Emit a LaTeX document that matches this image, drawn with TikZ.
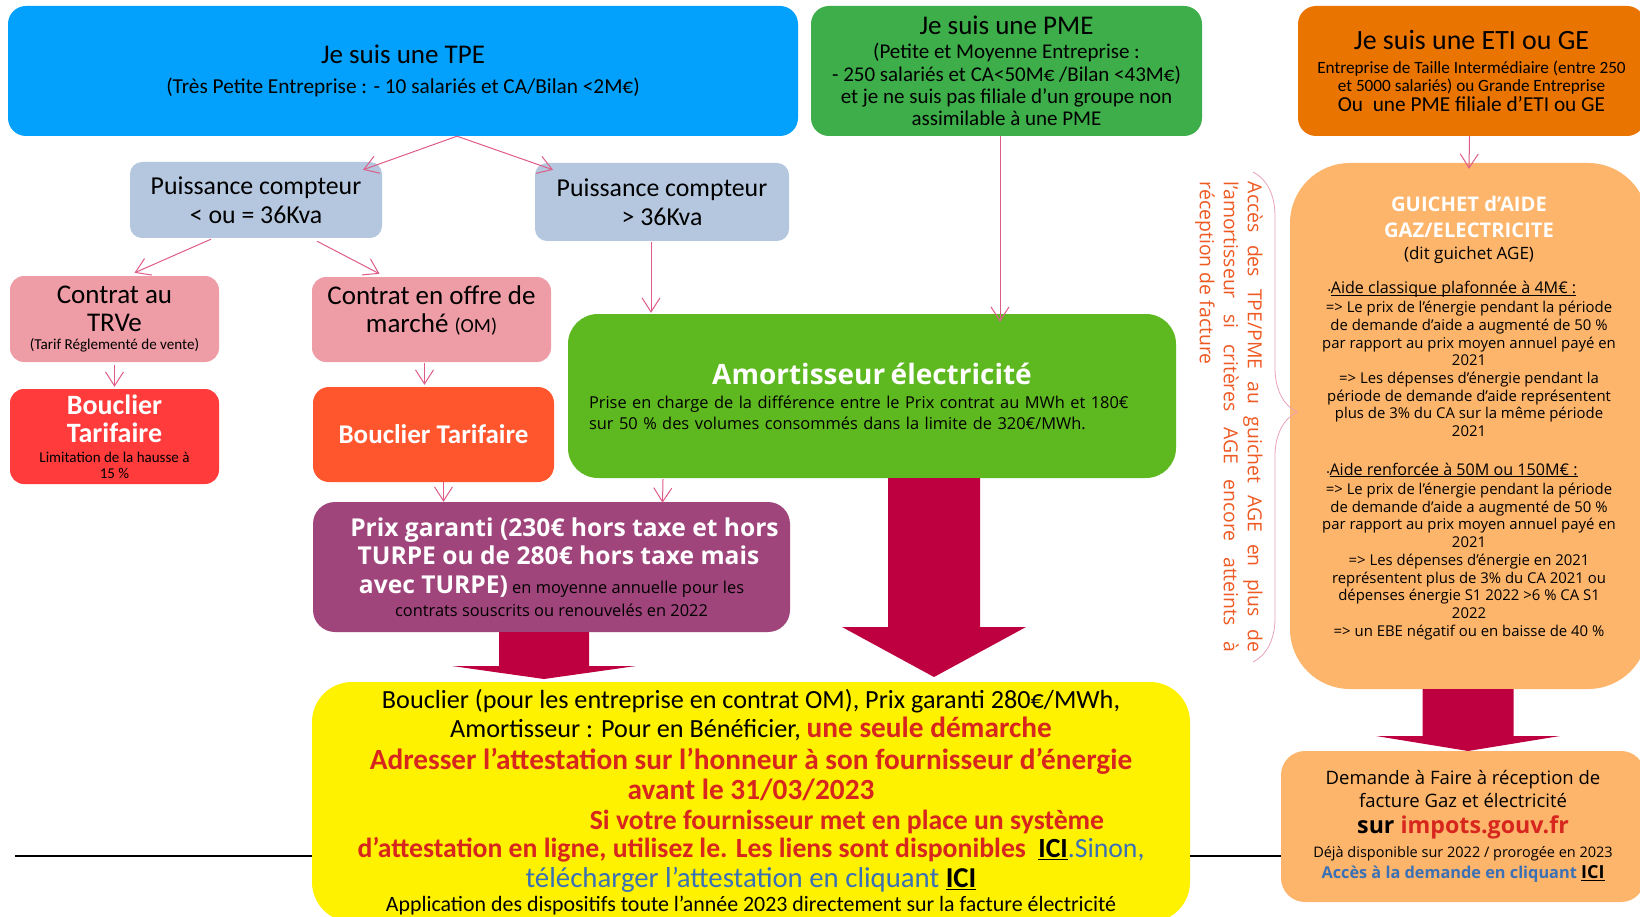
\documentclass[tikz,border=0pt]{standalone}
\usepackage{fontspec}
\setmainfont{Carlito}
\newfontfamily\marianne{Open Sans}
\usetikzlibrary{calc, arrows.meta, decorations.pathreplacing}

\definecolor{tpeblue}{HTML}{03A1FC}
\definecolor{pmegreen}{HTML}{3DAE49}
\definecolor{etiorange}{HTML}{EA7400}
\definecolor{kvablue}{HTML}{B4C7DF}
\definecolor{contratpink}{HTML}{EE9CA5}
\definecolor{shieldred}{HTML}{FF3B3B}
\definecolor{shieldorange}{HTML}{FF562E}
\definecolor{amortgreen}{HTML}{5EB820}
\definecolor{prixpurple}{HTML}{A0457C}
\definecolor{guichetorange}{HTML}{FDB46B}
\definecolor{arrowred}{HTML}{BE0040}
\definecolor{linkpink}{HTML}{DE5C87}
\definecolor{bracepink}{HTML}{E9A3B5}
\definecolor{txtred}{HTML}{D7261E}
\definecolor{txtblue}{HTML}{3A70B5}
\definecolor{vertorange}{HTML}{EE5A24}

\newcommand{\fs}[2]{\fontsize{#1}{#2}\selectfont}
% underline close to the baseline
\newcommand{\baseul}[1]{\setbox0\hbox{#1}\rlap{\rule[-1.8pt]{\wd0}{0.9pt}}\box0}
% fat arrow: start node (only its y), tip, half shaft, half head, head length
\newcommand{\fatarrow}[5]{%
  \fill[arrowred] let \p1=(#1), \p2=(#2) in
    (\x2-#3pt,\y1) -- (\x2+#3pt,\y1) -- (\x2+#3pt,\y2+#5pt) -- (\x2+#4pt,\y2+#5pt)
    -- (\x2,\y2) -- (\x2-#4pt,\y2+#5pt) -- (\x2-#3pt,\y2+#5pt) -- cycle;}

\begin{document}
\begin{tikzpicture}[x=1pt, y=-1pt,
    box/.style={rounded corners=#1, inner sep=0pt, align=center},
    box/.default=18pt,
    link/.style={draw=linkpink, line width=1pt, -{Straight Barb[length=14pt, width=18pt, line width=1pt]}}]
  \path[use as bounding box, fill=white] (0,0) rectangle (1640,917);
  \clip (0,0) rectangle (1640,917);

  % top row
  \node[box, fill=tpeblue, minimum width=790pt, minimum height=130pt, font=\fs{21.3}{30}] (tpe) at (403,71)
    {{\fs{27}{30}Je suis une TPE}\\(Très Petite Entreprise : - 10 salariés et CA/Bilan <2M€)};
  \node[box, fill=pmegreen, minimum width=391pt, minimum height=130pt, font=\fs{21}{26}] (pme) at (1006.5,71)
    {{\fs{27}{30}Je suis une PME}\\[-2pt](Petite et Moyenne Entreprise :\\[-3pt]- 250 salariés et CA<50M€ /Bilan <43M€)\\[-4pt]et je ne suis pas filiale d’un groupe non\\[-4pt]assimilable à une PME};
  \node[box, fill=etiorange, minimum width=347pt, minimum height=130pt, font=\fs{17.2}{24}] (eti) at (1471.5,71)
    {{\fs{27.9}{30}Je suis une ETI ou GE}\\Entreprise de Taille Intermédiaire (entre 250\\[-6pt]et 5000 salariés) ou Grande Entreprise\\[-4pt]{\fs{21.3}{22}Ou\ \ une PME filiale d’ETI ou GE}};

  % TPE branch
  \node[box=12pt, fill=kvablue, minimum width=252pt, minimum height=76pt, font=\fs{25.8}{28.5}] (pcLow) at (256,200)
    {Puissance compteur\\< ou = 36Kva};
  \node[box=12pt, fill=kvablue, minimum width=254pt, minimum height=78pt, font=\fs{25.8}{28.5}] (pcHigh) at (662,202)
    {Puissance compteur\\> 36Kva};
  \node[box=14pt, fill=contratpink, minimum width=209pt, minimum height=86pt, font=\fs{27}{28}] (trve) at (114.5,319)
    {Contrat au\\TRVe\\[-10pt]{\fs{15.1}{16}(Tarif Réglementé de vente)}};
  \node[box=14pt, fill=contratpink, minimum width=239pt, minimum height=85pt] (om) at (431.5,319.5) {};
  \node[align=center, font=\fs{27}{28}] (omText) at ($(om.center)+(0,-9)$)
    {Contrat en offre de\\marché {\fs{20}{20}(OM)}};
  \node[box=14pt, fill=shieldred, minimum width=209pt, minimum height=95pt, font=\fs{15}{28}] (shieldA) at (114.5,436.5)
    {{\color{white}\bfseries\fs{28}{28}Bouclier}\\{\color{white}\bfseries\fs{28}{28}Tarifaire}\\[-8pt]Limitation de la hausse à\\[-12pt]15 \%};
  \node[box=16pt, fill=shieldorange, minimum width=241pt, minimum height=95pt, text=white, font=\bfseries\fs{27}{30}] (shieldB) at (433.5,434.5)
    {Bouclier Tarifaire};

  \node[box=30pt, fill=amortgreen, minimum width=608pt, minimum height=164pt, text width=566pt, align=left, font=\marianne\fs{16.4}{21}] (amort) at (872,396)
    {{\centering\color{white}\bfseries\fs{28}{30}Amortisseur électricité\par}\vspace{3pt}Prise en charge de la différence entre le Prix contrat au MWh et 180€\\sur 50 \% des volumes consommés dans la limite de 320€/MWh.};
  \node[box=22pt, fill=prixpurple, minimum width=477pt, minimum height=130pt, font=\marianne\fs{16.4}{28.5}] (prix) at (551.5,567)
    {\hbox to 26pt{}{\bfseries\color{white}\fs{24.6}{28}Prix garanti (230€ hors taxe et hors}\\\hbox to 14pt{}{\bfseries\color{white}\fs{24.6}{28}TURPE ou de 280€ hors taxe mais}\\{\bfseries\color{white}\fs{24.6}{28}avec TURPE)} en moyenne annuelle pour les\\[-5.5pt]contrats souscrits ou renouvelés en 2022};

  % bottom
  \node[box=40pt, fill=yellow, minimum width=878pt, minimum height=240pt, font=\fs{26.2}{29.3}] (yellow) at (751,802)
    {Bouclier (pour les entreprise en contrat OM), Prix garanti 280€/MWh,\\
     Amortisseur : Pour en Bénéficier, {\color{txtred}\bfseries\fs{29.3}{30}une seule démarche}\\[2pt]
     {\color{txtred}\bfseries\fs{29.3}{30}Adresser l’attestation sur l’honneur à son fournisseur d’énergie}\\[1pt]
     {\color{txtred}\bfseries\fs{29.3}{30}avant le 31/03/2023}\\[1pt]
     \hspace*{192pt}{\color{txtred}\bfseries\fs{27.7}{30}Si votre fournisseur met en place un système}\\[-1pt]
     {\color{txtred}\bfseries\fs{27.7}{30}d’attestation en ligne, utilisez le. Les liens sont disponibles\ \ }{\fs{27.7}{30}\underline{\textbf{ICI}}\color{txtblue}.Sinon,}\\
     {\fs{28.8}{30}\color{txtblue}télécharger l’attestation en cliquant }{\fs{28.8}{30}\underline{\textbf{ICI}}}\\[-5.3pt]
     {\fs{21.9}{22}Application des dispositifs toute l’année 2023 directement sur la facture électricité}};

  % right column
  \node[box=60pt, fill=guichetorange, minimum width=358pt, minimum height=526pt] (guichet) at (1469,426) {};
  \node[align=center, font=\marianne\fs{14.9}{17.7}] (guichetText) at ($(guichet.center)+(0,-8)$)
    {{\bfseries\color{white}\fs{20.2}{22}GUICHET d’AIDE}\\[8.3pt]
     {\bfseries\color{white}\fs{20.2}{22}GAZ/ELECTRICITE}\\[4.3pt]
     {\fs{17}{18}(dit guichet AGE)}\\[16.3pt]
     {\fs{8}{8}•}{\fs{16.1}{18}\baseul{Aide classique plafonnée à 4M€ :}}\hbox to 34pt{}\\[1.3pt]
     => Le prix de l’énergie pendant la période\\
     de demande d’aide a augmenté de 50 \%\\
     par rapport au prix moyen annuel payé en\\
     2021\\
     => Les dépenses d’énergie pendant la\\
     période de demande d’aide représentent\\
     plus de 3\% du CA sur la même période\\
     2021\\[21.3pt]
     {\fs{8}{8}•}{\fs{16.1}{18}\baseul{Aide renforcée à 50M ou 150M€ :}}\hbox to 34pt{}\\[1.3pt]
     => Le prix de l’énergie pendant la période\\
     de demande d’aide a augmenté de 50 \%\\
     par rapport au prix moyen annuel payé en\\
     2021\\
     => Les dépenses d’énergie en 2021\\
     représentent plus de 3\% du CA 2021 ou\\
     dépenses énergie S1 2022 >6 \% CA S1\\
     2022\\
     => un EBE négatif ou en baisse de 40 \%};
  \node[box=24pt, fill=guichetorange, minimum width=364pt, minimum height=151pt, font=\marianne\fs{18.5}{23}] (demande) at (1463,826.5)
    {Demande à Faire à réception de\\facture Gaz et électricité\\[3pt]
     {\bfseries\fs{23.2}{26}sur {\color{txtred}impots.gouv.fr}}\\[1pt]
     {\fs{14.5}{17}Déjà disponible sur 2022 / prorogée en 2023}\\[-2pt]
     {\bfseries\color{txtblue}\fs{16.3}{18}Accès à la demande en cliquant }{\bfseries\fs{18}{18}\underline{ICI}}};

  % side note with brace
  \node[rotate=-90, text width=470pt, align=justify, text=vertorange, font=\marianne\fs{19.4}{24}] (ageNote) at (1229,417)
    {Accès des TPE/PME au guichet AGE en plus de\linebreak l’amortisseur si critères AGE encore atteints à\linebreak réception de facture};
  \draw[bracepink, line width=0.8pt, decorate, decoration={brace, amplitude=44pt, aspect=0.49}] (1253,172) -- (1253,662);

  % thin connectors
  \draw[link] ($(tpe.south)+(54,0)$) -- ($(pcLow.north)+(107,8)$);
  \draw[link] ($(tpe.south)+(54,0)$) -- ($(pcHigh.north)+(-109,7)$);
  \draw[link] ($(pcLow.south)+(-45,1)$) -- ($(trve.north)+(20,-3)$);
  \draw[link] ($(pcLow.south)+(61,3)$) -- ($(om.north)+(-52,-3)$);
  \draw[link] ($(pcHigh.south)+(-11,1)$) -- ($(amort.north)+(-221,-1)$);
  \draw[link] ($(pme.south)+(-6.5,0)$) -- ($(amort.north)+(128,8)$);
  \draw[link] ($(trve.south)+(0,3)$) -- ($(shieldA.north)+(0,-2)$);
  \draw[link] ($(om.south)+(-7,1)$) -- ($(shieldB.north)+(-9,-2)$);
  \draw[link] ($(shieldB.south)+(10,0)$) -- ($(prix.north)+(-108,0)$);
  \draw[link] ($(amort.south)+(-209,1)$) -- ($(prix.north)+(111,1)$);
  \draw[link] ($(eti.south)+(-2,0)$) -- ($(guichet.north)+(0,6)$);

  % fat arrows
  \coordinate (amortTip) at (934,677);
  \coordinate (prixTip) at (544,679);
  \coordinate (demandeTip) at (1468,751);
  \fatarrow{amort.south}{amortTip}{46}{92}{50}
  \fatarrow{prix.south}{prixTip}{45}{92}{13}
  \fatarrow{guichet.south}{demandeTip}{45.5}{92}{15}

  % black rule
  \coordinate (ruleStart) at (15,856);
  \draw[line width=2.5pt] (ruleStart) -- (ruleStart -| yellow.west);
  \draw[line width=2.5pt] (yellow.east |- ruleStart) -- (demande.west |- ruleStart);
\end{tikzpicture}
\end{document}
